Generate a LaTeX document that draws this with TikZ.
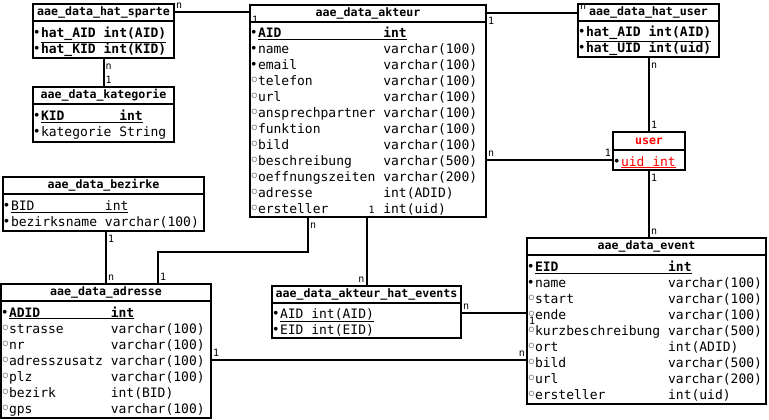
\documentclass[tikz,border=0pt]{standalone}
\usepackage{fontspec}
\usetikzlibrary{positioning}
\newfontfamily\erfont{DejaVu Sans Mono}
\newfontfamily\symfont{DejaVu Sans}
\newlength\chw
\setlength\chw{7.83pt}
\newcommand\rowf{\erfont\fontsize{13}{16}\selectfont\lineskiplimit=-100pt}
\newcommand\titlef{\erfont\bfseries\fontsize{11.6}{14}\selectfont}
\newcommand\cardf{\erfont\fontsize{10}{12}\selectfont}
\newcommand\rs{\rule[-2pt]{0pt}{16pt}}
\newcommand\kb{\makebox[6.5pt][l]{\raisebox{4pt}{\symfont\fontsize{5}{5}\selectfont ●}}}
\newcommand\ob{\makebox[6.5pt][l]{\raisebox{3.6pt}{\symfont\bfseries\fontsize{6.5}{6.5}\selectfont ○}}}
\newcommand\fld[3]{\makebox[#1\chw][l]{#2}#3}
\newcommand\pk[1]{\smash{\underline{#1}}}

\begin{document}
\begin{tikzpicture}[x=1pt,y=-1pt]
    \tikzset{
      tabhead/.style={draw, line width=2.4pt, outer sep=0pt, anchor=north west, minimum width=#1, minimum height=17pt, inner sep=0pt, font=\titlef},
      tabbody/.style={draw, line width=2.4pt, outer sep=0pt, text width=#1, align=left, inner xsep=1.5pt, inner ysep=0pt, font=\rowf},
      rel/.style={line width=2pt},
      card/.style={font=\cardf, inner sep=1pt, text height=9.5pt, text depth=1.5pt}
    }
    \useasboundingbox (0,0) rectangle (769,420);

    % --- TABLES (TOP ROW) ---
    \node[tabhead=141pt] (sparteT) at (33,4) {aae\_data\_hat\_sparte};
    \node[tabbody=138pt, minimum height=37pt, below=0pt of sparteT] (sparte)
      {\kb\pk{\textbf{\fld{8}{hat\_AID}{int(AID)}}}\rs\\
       \kb\pk{\textbf{\fld{8}{hat\_KID}{int(KID)}}}\rs};

    \node[tabhead=141pt] (katT) at (33,87) {aae\_data\_kategorie};
    \node[tabbody=138pt, minimum height=38pt, below=0pt of katT] (kat)
      {\kb\pk{\textbf{\fld{10}{KID}{int}}}\rs\\
       \kb\fld{10}{kategorie}{String}\rs};

    \node[tabhead=236pt] (akteurT) at (250,5) {aae\_data\_akteur};
    \node[tabbody=233pt, minimum height=195pt, below=0pt of akteurT] (akteur)
      {\kb\pk{\textbf{\fld{16}{AID}{int}}}\rs\\
       \kb\fld{16}{name}{varchar(100)}\rs\\
       \kb\fld{16}{email}{varchar(100)}\rs\\
       \ob\fld{16}{telefon}{varchar(100)}\rs\\
       \ob\fld{16}{url}{varchar(100)}\rs\\
       \ob\fld{16}{ansprechpartner}{varchar(100)}\rs\\
       \ob\fld{16}{funktion}{varchar(100)}\rs\\
       \ob\fld{16}{bild}{varchar(100)}\rs\\
       \ob\fld{16}{beschreibung}{varchar(500)}\rs\\
       \ob\fld{16}{oeffnungszeiten}{varchar(200)}\rs\\
       \ob\fld{16}{adresse}{int(ADID)}\rs\\
       \ob\fld{16}{ersteller}{int(uid)}\rs};

    \node[tabhead=141pt] (hatuserT) at (578,4) {aae\_data\_hat\_user};
    \node[tabbody=138pt, minimum height=36pt, below=0pt of hatuserT] (hatuser)
      {\kb\pk{\textbf{\fld{8}{hat\_AID}{int(AID)}}}\rs\\
       \kb\pk{\textbf{\fld{8}{hat\_UID}{int(uid)}}}\rs};

    \node[tabhead=72pt, minimum height=18pt, text=red] (userT) at (613,132) {user};
    \node[tabbody=69pt, minimum height=20pt, below=0pt of userT] (user)
      {\kb{\color{red}\pk{\fld{4}{uid}{int}}}\rs};

    % --- TABLES (BOTTOM ROW) ---
    \node[tabhead=201pt] (bezirkeT) at (3,177) {aae\_data\_bezirke};
    \node[tabbody=198pt, minimum height=37pt, below=0pt of bezirkeT] (bezirke)
      {\kb\pk{\fld{12}{BID}{int}}\rs\\
       \kb\fld{12}{bezirksname}{varchar(100)}\rs};

    \node[tabhead=210pt] (adresseT) at (1,284) {aae\_data\_adresse};
    \node[tabbody=207pt, minimum height=117pt, below=0pt of adresseT] (adresse)
      {\kb\pk{\textbf{\fld{13}{ADID}{int}}}\rs\\
       \ob\fld{13}{strasse}{varchar(100)}\rs\\
       \ob\fld{13}{nr}{varchar(100)}\rs\\
       \ob\fld{13}{adresszusatz}{varchar(100)}\rs\\
       \ob\fld{13}{plz}{varchar(100)}\rs\\
       \ob\fld{13}{bezirk}{int(BID)}\rs\\
       \ob\fld{13}{gps}{varchar(100)}\rs};

    \node[tabhead=189pt] (hatevT) at (272,286) {aae\_data\_akteur\_hat\_events};
    \node[tabbody=186pt, minimum height=35pt, below=0pt of hatevT] (hatev)
      {\kb\pk{\fld{4}{AID}{int(AID)}}\rs\\
       \kb\pk{\fld{4}{EID}{int(EID)}}\rs};

    \node[tabhead=239pt] (eventT) at (527,238) {aae\_data\_event};
    \node[tabbody=236pt, minimum height=149pt, below=0pt of eventT] (event)
      {\kb\pk{\textbf{\fld{17}{EID}{int}}}\rs\\
       \kb\fld{17}{name}{varchar(100)}\rs\\
       \ob\fld{17}{start}{varchar(100)}\rs\\
       \ob\fld{17}{ende}{varchar(100)}\rs\\
       \ob\fld{17}{kurzbeschreibung}{varchar(500)}\rs\\
       \ob\fld{17}{ort}{int(ADID)}\rs\\
       \ob\fld{17}{bild}{varchar(500)}\rs\\
       \ob\fld{17}{url}{varchar(200)}\rs\\
       \ob\fld{17}{ersteller}{int(uid)}\rs};

    % --- RELATIONS ---
    \draw[rel] (sparteT.east) node[card, above right] {n}
      -- (sparteT.east -| akteurT.west) node[card, below right] {1};
    \draw[rel] (sparte.south) node[card, below right] {n}
      -- (katT.north) node[card, above right] {1};
    \draw[rel] (akteurT.east) node[card, below right] {1}
      -- (akteurT.east -| hatuserT.west) node[card, above right] {n};
    \draw[rel] (userT.north |- hatuser.south) node[card, below right] {n}
      -- (userT.north) node[card, above right] {1};
    \draw[rel] (user.west -| akteur.east) node[card, above right] {n}
      -- (user.west) node[card, above left] {1};
    \draw[rel] (user.south) node[card, below right] {1}
      -- (user.south |- eventT.north) node[card, above right] {n};
    \draw[rel] ([xshift=58pt]akteur.south west) node[card, below right] {n}
      -- ++(0,35) -| ([xshift=157pt]adresseT.north west) node[card, above right] {1};
    \draw[rel] (hatevT.north |- akteur.south) node[card, above right] {1}
      -- (hatevT.north) node[card, above left] {n};
    \coordinate (evlink) at ([yshift=-10pt]hatev.north east);
    \draw[rel] (evlink) node[card, above right] {n}
      -- (evlink -| event.west) node[card, below right] {1};
    \draw[rel] (adresse.east) node[card, above right] {1}
      -- (adresse.east -| event.west) node[card, above left] {n};
    \draw[rel] (adresseT.north |- bezirke.south) node[card, below right] {1}
      -- (adresseT.north) node[card, above right] {n};
\end{tikzpicture}
\end{document}
